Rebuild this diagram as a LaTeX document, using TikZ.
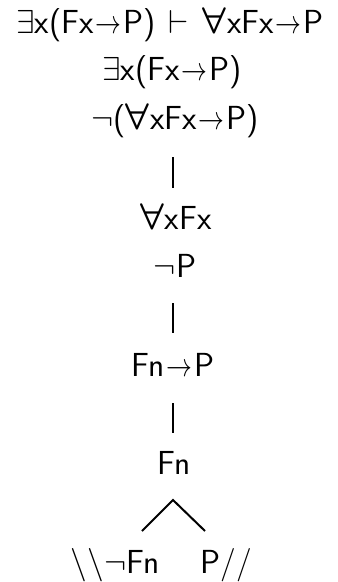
\documentclass[tikz,border=0pt]{standalone}
\usepackage{amsmath,amssymb,graphicx}
\newcommand\myex{\ensuremath{\exists}}
\newcommand\myall{\scalebox{1.12}{\ensuremath{\boldsymbol{\forall}}}\hspace{0.5pt}}
\newcommand\myto{\hspace{1.5pt}\scalebox{0.78}[1]{\ensuremath{\rightarrow}}\hspace{1.5pt}}
\newcommand\myneg{\ensuremath{\neg}}
\newcommand\myvd{\hspace{0.38em}\ensuremath{\vdash}\hspace{0.42em}}
\begin{document}
\begin{tikzpicture}[x=0.75pt,y=-0.75pt,
  fml/.style={anchor=base,inner sep=0pt,font=\fontsize{25}{30}\selectfont\sffamily},
  bar/.style={line width=1.5pt},
  branch/.style={line width=1.5pt}]
\useasboundingbox (0,0) rectangle (338,582);
\node[fml] (l1) at (170,33) {\myex x(Fx\myto P)\myvd\myall xFx\myto P};
\node[fml] (l2) at (172,80) {\myex x(Fx\myto P)};
\node[fml] (l3) at (175,129) {\myneg(\myall xFx\myto P)};
\coordinate (b1a) at (173,157);
\coordinate (b1b) at (173,188);
\node[fml] (l4) at (176,229) {\myall xFx};
\node[fml] (l5) at (175,277) {\myneg P};
\coordinate (b2a) at (173,303);
\coordinate (b2b) at (173,333);
\node[fml] (l6) at (173,376) {Fn\myto P};
\coordinate (b3a) at (173,403);
\coordinate (b3b) at (173,433);
\node[fml] (l7) at (174,474) {Fn};
\coordinate (apex) at (173,500);
\coordinate (lft) at (142,531);
\coordinate (rgt) at (205,531);
\node[fml] (l8a) at (115,573) {\textbackslash\textbackslash\myneg Fn};
\node[fml] (l8b) at (226,573) {P//};
\draw[bar] (b1a) -- (b1b);
\draw[bar] (b2a) -- (b2b);
\draw[bar] (b3a) -- (b3b);
\draw[branch] (lft) -- (apex) -- (rgt);
\end{tikzpicture}
\end{document}
